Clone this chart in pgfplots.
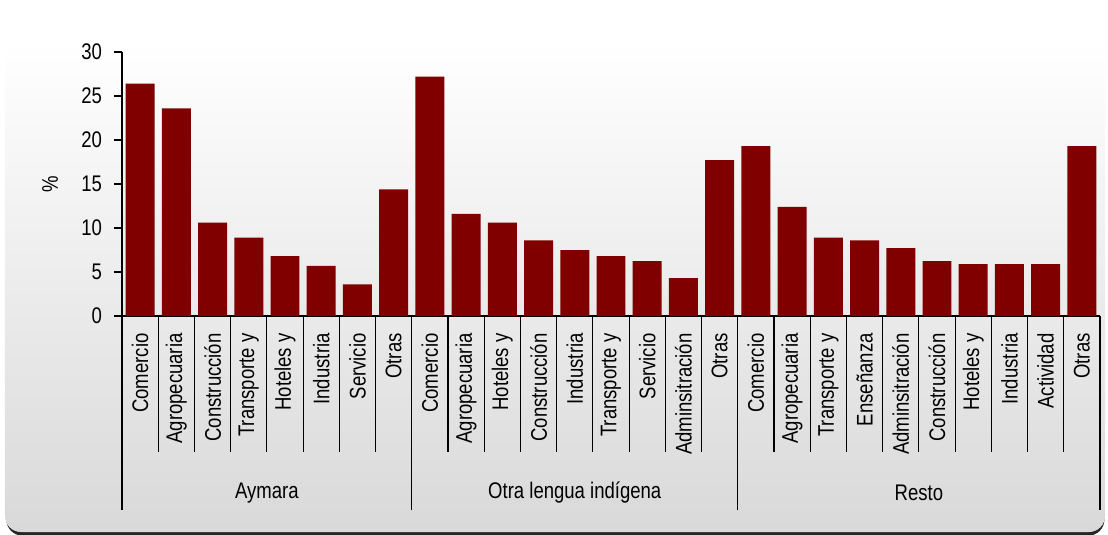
\documentclass[border=0pt]{standalone}
\usepackage{pgfplots}
\usepackage{pgfplotstable}
\pgfplotsset{compat=1.18}
\usepackage{fontspec}
\setmainfont{Liberation Sans}[FakeStretch=0.82]
\definecolor{barred}{HTML}{800000}
\pgfplotstableread{
x y
0 26.4
1 23.6
2 10.6
3 8.9
4 6.8
5 5.7
6 3.6
7 14.4
8 27.2
9 11.6
10 10.6
11 8.6
12 7.5
13 6.8
14 6.25
15 4.3
16 17.7
17 19.3
18 12.4
19 8.9
20 8.6
21 7.7
22 6.25
23 5.9
24 5.9
25 5.9
26 19.3
}\data
\begin{document}
\begin{tikzpicture}[font=\fontsize{11.3}{13}\selectfont]
\useasboundingbox (-61pt,-109.5pt) rectangle (493pt,158pt);
\fill[black!85, rounded corners=8pt] (-57.8pt,-109.8pt) rectangle (491.2pt,100pt);
\shade[top color=white, bottom color=black!15, rounded corners=8pt] (-58.5pt,-108pt) rectangle (491.5pt,137pt);
\begin{axis}[
  at={(0,0)}, anchor=south west, scale only axis,
  width=489pt, height=132pt,
  xmin=-0.5, xmax=26.5, ymin=0, ymax=30,
  clip=false,
  axis x line*=bottom, axis y line*=left,
  axis line style={line width=0.8pt, black},
  ytick={0,5,...,30},
  major tick length=4pt,
  tick align=outside,
  y tick style={line width=0.6pt, black},
  /pgf/number format/assume math mode=true,
  yticklabel style={font=\fontsize{11.3}{13}\selectfont, xshift=-2.5pt},
  ylabel={\%},
  ylabel style={at={(axis description cs:-0.0736,0.5)}, anchor=center, font=\fontsize{11.3}{13}\selectfont},
  xtick={0,...,26},
  x tick style={draw=none},
  xticklabels={Comercio,Agropecuaria,Construcción,Transporte y,Hoteles y,Industria,Servicio,Otras,
    Comercio,Agropecuaria,Hoteles y,Construcción,Industria,Transporte y,Servicio,Adminsitración,Otras,
    Comercio,Agropecuaria,Transporte y,Enseñanza,Adminsitración,Construcción,Hoteles y,Industria,Actividad,Otras},
  xticklabel style={rotate=90, anchor=east, inner sep=0pt, font=\fontsize{11.3}{13}\selectfont},
  xticklabel shift=4.5pt,
  minor xtick={-0.5,0.5,...,26.5},
  minor tick length=68pt,
  minor x tick style={draw=black, line width=0.6pt},
  extra x ticks={-0.5,7.5,16.5,26.5},
  extra x tick labels={},
  extra x tick style={major tick length=97pt, x tick style={draw=black, line width=0.6pt}},
]
\addplot[ybar, bar width=0.8, fill=barred, draw=none] table[x=x,y=y] {\data};
\node at (axis cs:3.5,0) [yshift=-88.5pt] {Aymara};
\node at (axis cs:12,0) [yshift=-88.5pt] {Otra lengua indígena};
\node at (axis cs:21.5,0) [yshift=-88.5pt] {Resto};
\end{axis}
\end{tikzpicture}
\end{document}
